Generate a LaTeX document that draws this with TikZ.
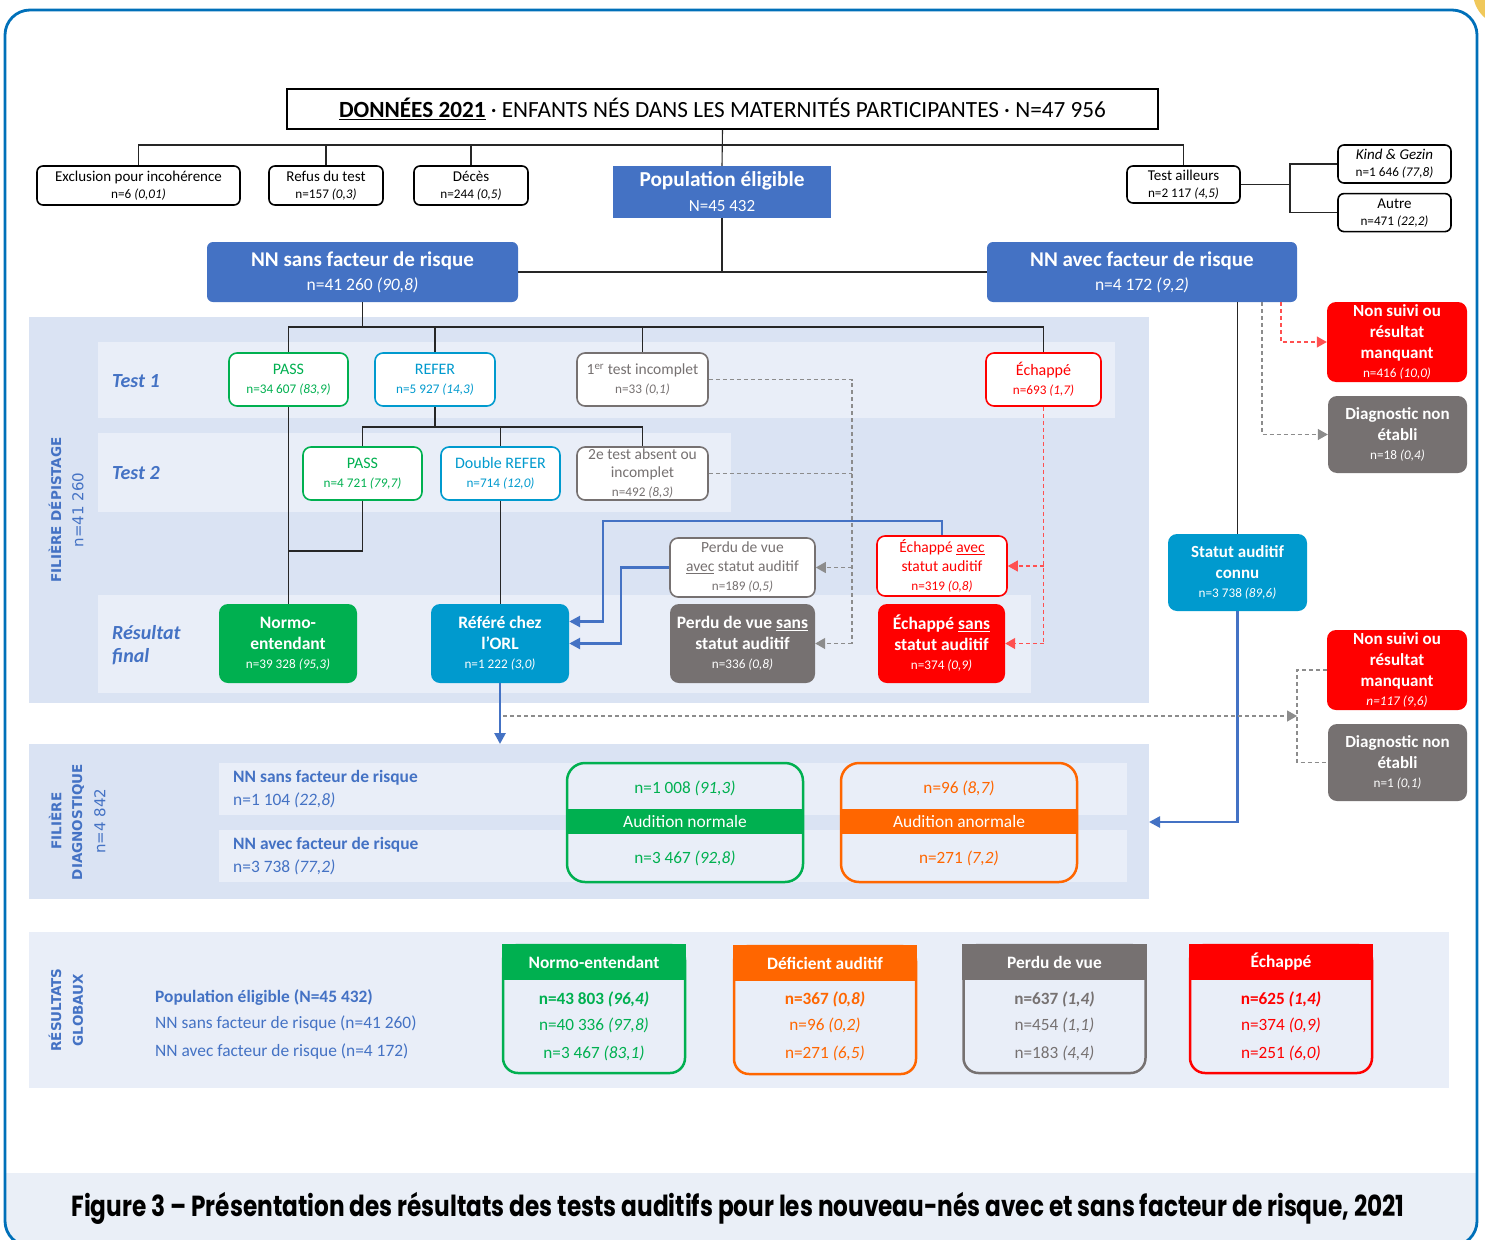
\documentclass[tikz,border=0pt]{standalone}
\usepackage{fontspec}
\setmainfont{Carlito}
\newfontfamily\capfont[FakeStretch=0.8]{Poppins}
\newfontfamily\sidefont{DejaVu Sans}
\usepackage{tikz}
\usetikzlibrary{positioning,arrows.meta}
\definecolor{nblue}{RGB}{68,114,196}
\definecolor{ncyan}{RGB}{0,154,206}
\definecolor{ngreen}{RGB}{0,176,80}
\definecolor{ngray}{RGB}{118,113,113}
\definecolor{nred}{RGB}{255,0,0}
\definecolor{norange}{RGB}{255,102,0}
\definecolor{bandcol}{RGB}{218,227,243}
\definecolor{stripcol}{RGB}{233,238,248}
\definecolor{framecol}{RGB}{0,112,185}
\definecolor{capcol}{RGB}{234,239,247}
\definecolor{sun}{RGB}{240,200,90}
\definecolor{dashgray}{RGB}{140,140,140}
\definecolor{dashred}{RGB}{255,80,80}
\newcommand{\pc}[1]{\textit{(#1)}}
\newcommand{\sm}{\mdseries\fontsize{13.2}{15}\selectfont}

\begin{document}
\begin{tikzpicture}[x=1pt,y=-1pt,
wbox/.style={draw=black,line width=1.6pt,rounded corners=6pt,fill=white,align=center,inner sep=0pt,font=\fontsize{15}{17}\selectfont},
pbox/.style={fill=nblue,text=white,align=center,inner sep=0pt},
tbox/.style={draw=#1,text=#1,line width=1.6pt,rounded corners=8pt,fill=white,align=center,inner sep=0pt,font=\fontsize{16}{19}\selectfont},
fbox/.style={fill=#1,text=white,rounded corners=9pt,align=center,inner sep=0pt,font=\bfseries\fontsize{17.5}{21}\selectfont},
abox/.style={draw=#1,line width=2.5pt,rounded corners=18pt,minimum width=236pt,minimum height=119pt},
aband/.style={fill=#1,text=white,minimum width=238pt,minimum height=25pt,inner sep=0pt,font=\fontsize{17.4}{19}\selectfont},
rbox/.style={draw=#1,line width=2.5pt,rounded corners=15pt,minimum width=182pt,minimum height=128pt},
rhead/.style={fill=#1,draw=#1,line width=2.5pt,text=white,minimum width=182pt,minimum height=34pt,inner sep=0pt,font=\bfseries\fontsize{17.4}{19}\selectfont},
lbl/.style={text=nblue,anchor=west,align=left,inner sep=0pt,font=\bfseries\itshape\fontsize{20}{23}\selectfont},
side/.style={text=nblue,rotate=90,inner sep=0pt,font=\sidefont\fontsize{15}{15}\selectfont},
sidebf/.style={side,font=\sidefont\bfseries\fontsize{13.5}{15}\selectfont},
dtxt/.style={text=nblue,anchor=west,inner sep=0pt,font=\fontsize{17.4}{19}\selectfont},
vtxt/.style={text=#1,inner sep=0pt,font=\fontsize{17.2}{19}\selectfont},
lnk/.style={draw=black!85,line width=1.1pt},
blu/.style={draw=nblue,line width=2.6pt,-{Triangle[length=11pt,width=11pt]}},
gdash/.style={draw=dashgray,line width=1.2pt,dash pattern=on 4pt off 3pt},
rdash/.style={draw=dashred,line width=1.2pt,dash pattern=on 4pt off 3pt},
tip/.style={-{Triangle[length=10pt,width=11pt]}}]

\useasboundingbox (0,0) rectangle (1485,1239);
\fill[white] (0,0) rectangle (1485,1239);
\fill[sun] (1507,-8) circle (34pt);
\begin{scope}
\clip[rounded corners=25pt] (5,10) rectangle (1477,1246);
\fill[capcol] (5,1173) rectangle (1477,1246);
\end{scope}
\draw[framecol,line width=2.8pt,rounded corners=25pt] (5,10) rectangle (1477,1246);

% backgrounds
\fill[bandcol] (29,317) rectangle (1149,703);
\fill[stripcol] (98,342) rectangle (1115,418);
\fill[stripcol] (98,433) rectangle (731,512);
\fill[stripcol] (98,595) rectangle (1031,693);
\fill[bandcol] (29,744) rectangle (1149,899);
\fill[stripcol] (219,763) rectangle (1127,815);
\fill[stripcol] (219,830) rectangle (1127,882);
\fill[stripcol] (29,932) rectangle (1449,1088);

% top
\node[wbox,rounded corners=0pt,minimum width=871pt,minimum height=40pt,font=\fontsize{23.2}{26}\selectfont] (title) at (722.5,109) {\textbf{\underline{DONNÉES 2021}} · ENFANTS NÉS DANS LES MATERNITÉS PARTICIPANTES · N=47 956};
\node[wbox,minimum width=203pt,minimum height=39pt] (excl) at (138.5,185.5) {Exclusion pour incohérence\\\sm n=6 \pc{0,01}};
\node[wbox,minimum width=114pt,minimum height=39pt] (refus) at (326,185.5) {Refus du test\\\sm n=157 \pc{0,3}};
\node[wbox,minimum width=114pt,minimum height=39pt] (deces) at (471,185.5) {Décès\\\sm n=244 \pc{0,5}};
\node[pbox,minimum width=218pt,minimum height=52pt,font=\fontsize{21.3}{25}\selectfont] (pop) at (722,192) {\textbf{Population éligible}\\\fontsize{17}{19}\selectfont N=45 432};
\node[wbox,minimum width=113pt,minimum height=37pt] (tail) at (1183.5,184.5) {Test ailleurs\\\sm n=2 117 \pc{4,5}};
\node[wbox,minimum width=113pt,minimum height=38pt] (kind) at (1394.5,164) {\textit{Kind \& Gezin}\\\sm n=1 646 \pc{77,8}};
\node[wbox,minimum width=113pt,minimum height=38pt,below=9pt of kind] (autre) {Autre\\\sm n=471 \pc{22,2}};
\node[pbox,rounded corners=6pt,minimum width=311pt,minimum height=60pt,font=\fontsize{21}{24}\selectfont] (nnsans) at (362.5,272) {\textbf{NN sans facteur de risque}\\\fontsize{17.5}{19}\selectfont n=41 260 \pc{90,8}};
\node[pbox,rounded corners=6pt,minimum width=310pt,minimum height=60pt,font=\fontsize{21}{24}\selectfont] (nnavec) at (1142,272) {\textbf{NN avec facteur de risque}\\\fontsize{17.5}{19}\selectfont n=4 172 \pc{9,2}};

% filiere depistage
\node[sidebf] (sdep) at (55,510) {FILIÈRE DÉPISTAGE};
\node[side] (sdepn) at (78,510) {n=41 260};
\node[lbl] (t1) at (112,381) {Test 1};
\node[lbl] (t2) at (112,473) {Test 2};
\node[lbl] (tf) at (112,645) {Résultat\\final};

\node[tbox=ngreen,minimum width=119pt,minimum height=53pt] (pass1) at (288.5,379.5) {PASS\\\sm n=34 607 \pc{83,9}};
\node[tbox=ncyan,minimum width=120pt,minimum height=53pt] (refer1) at (435,379.5) {REFER\\\sm n=5 927 \pc{14,3}};
\node[tbox=ngray,minimum width=131pt,minimum height=53pt,font=\fontsize{15.5}{19}\selectfont] (inc1) at (642.5,379.5) {1\textsuperscript{er} test incomplet\\\sm n=33 \pc{0,1}};
\node[tbox=nred,minimum width=115pt,minimum height=53pt] (ech1) at (1043.5,379.5) {Échappé\\\sm n=693 \pc{1,7}};

\node[tbox=ngreen,minimum width=119pt,minimum height=53pt] (pass2) at (362.5,473.5) {PASS\\\sm n=4 721 \pc{79,7}};
\node[tbox=ncyan,minimum width=119pt,minimum height=53pt] (dref) at (500.5,473.5) {Double REFER\\\sm n=714 \pc{12,0}};
\node[tbox=ngray,minimum width=131pt,minimum height=53pt,font=\fontsize{15.5}{18.5}\selectfont] (inc2) at (642.5,473.5) {2e test absent ou\\incomplet\\\sm n=492 \pc{8,3}};

\node[tbox=ngray,minimum width=145pt,minimum height=59pt,font=\fontsize{15.5}{19}\selectfont] (perdavec) at (742.5,567.5) {Perdu de vue\\\underline{avec} statut auditif\\\sm n=189 \pc{0,5}};
\node[tbox=nred,minimum width=130pt,minimum height=60pt,font=\fontsize{15.5}{19}\selectfont] (echavec) at (942,566) {Échappé \underline{avec}\\statut auditif\\\sm n=319 \pc{0,8}};

\node[fbox=ngreen,minimum width=138pt,minimum height=79pt] (normo) at (288,643.5) {Normo-\\entendant\\[-2pt]\sm n=39 328 \pc{95,3}};
\node[fbox=ncyan,minimum width=138pt,minimum height=79pt] (orl) at (500,643.5) {Référé chez\\l’ORL\\[-2pt]\sm n=1 222 \pc{3,0}};
\node[fbox=ngray,minimum width=145pt,minimum height=79pt] (perdsans) at (742.5,643.5) {Perdu de vue \underline{sans}\\statut auditif\\[-2pt]\sm n=336 \pc{0,8}};
\node[fbox=nred,minimum width=127pt,minimum height=79pt] (echsans) at (941.5,643.5) {Échappé \underline{sans}\\statut auditif\\[-2pt]\sm n=374 \pc{0,9}};

% right column
\node[fbox=nred,minimum width=140pt,minimum height=80pt,font=\bfseries\fontsize{17}{21}\selectfont] (nsuivi1) at (1397,342) {Non suivi ou\\résultat\\manquant\\[-2pt]\sm n=416 \pc{10,0}};
\node[fbox=ngray,minimum width=139pt,minimum height=77pt,font=\bfseries\fontsize{17}{21}\selectfont] (diagn1) at (1397.5,434.5) {Diagnostic non\\établi\\[-2pt]\sm n=18 \pc{0,4}};
\node[fbox=ncyan,minimum width=139pt,minimum height=77pt,font=\bfseries\fontsize{17}{21}\selectfont] (statut) at (1237.5,572.5) {Statut auditif\\connu\\[-2pt]\sm n=3 738 \pc{89,6}};
\node[fbox=nred,minimum width=140pt,minimum height=80pt,font=\bfseries\fontsize{17}{21}\selectfont] (nsuivi2) at (1397,670) {Non suivi ou\\résultat\\manquant\\[-2pt]\sm\itshape n=117 (9,6)};
\node[fbox=ngray,minimum width=139pt,minimum height=77pt,font=\bfseries\fontsize{17}{21}\selectfont] (diagn2) at (1397.5,762.5) {Diagnostic non\\établi\\[-2pt]\sm n=1 \pc{0,1}};

% filiere diagnostique
\node[sidebf] (sdia1) at (55,821) {FILIÈRE};
\node[sidebf] (sdia2) at (78,822) {DIAGNOSTIQUE};
\node[side] (sdian) at (100,821) {n=4 842};
\node[dtxt,font=\bfseries\fontsize{17.4}{19}\selectfont] (dsans) at (233,778) {NN sans facteur de risque};
\node[dtxt] (dsansn) at (233,800) {n=1 104 \pc{22,8}};
\node[dtxt,font=\bfseries\fontsize{17.4}{19}\selectfont] (davec) at (233,845) {NN avec facteur de risque};
\node[dtxt] (davecn) at (233,867) {n=3 738 \pc{77,2}};
\node[abox=ngreen] (audn) at (685,822.5) {};
\node[aband=ngreen] (audnb) at (685,821.5) {Audition normale};
\node[vtxt=ngreen] (audn1) at (685,788) {n=1 008 \pc{91,3}};
\node[vtxt=ngreen] (audn2) at (685,858) {n=3 467 \pc{92,8}};
\node[abox=norange] (auda) at (959,822.5) {};
\node[aband=norange] (audab) at (959,821.5) {Audition anormale};
\node[vtxt=norange] (auda1) at (959,788) {n=96 \pc{8,7}};
\node[vtxt=norange] (auda2) at (959,858) {n=271 \pc{7,2}};

% resultats globaux
\node[sidebf] (sres1) at (55,1010) {RÉSULTATS};
\node[sidebf] (sres2) at (78,1010) {GLOBAUX};
\node[dtxt,font=\bfseries\fontsize{17.4}{19}\selectfont] (gpop) at (155,998) {Population éligible (N=45 432)};
\node[dtxt] (gsans) at (155,1024) {NN sans facteur de risque (n=41 260)};
\node[dtxt] (gavec) at (155,1052) {NN avec facteur de risque (n=4 172)};

\node[rbox=ngreen] (rnormo) at (594,1009) {};
\node[rhead=ngreen] (hnormo) at (594,962) {Normo-entendant};
\node[vtxt=ngreen,font=\bfseries\fontsize{17.2}{19}\selectfont] (vn1) at (594,999) {n=43 803 \pc{96,4}};
\node[vtxt=ngreen] (vn2) at (594,1025) {n=40 336 \pc{97,8}};
\node[vtxt=ngreen] (vn3) at (594,1053) {n=3 467 \pc{83,1}};

\node[rbox=norange] (rdef) at (825,1010) {};
\node[rhead=norange] (hdef) at (825,963) {Déficient auditif};
\node[vtxt=norange,font=\bfseries\fontsize{17.2}{19}\selectfont] (vd1) at (825,999) {n=367 \pc{0,8}};
\node[vtxt=norange] (vd2) at (825,1025) {n=96 \pc{0,2}};
\node[vtxt=norange] (vd3) at (825,1053) {n=271 \pc{6,5}};

\node[rbox=ngray] (rperd) at (1054.5,1009) {};
\node[rhead=ngray] (hperd) at (1054.5,962) {Perdu de vue};
\node[vtxt=ngray,font=\bfseries\fontsize{17.2}{19}\selectfont] (vp1) at (1054.5,999) {n=637 \pc{1,4}};
\node[vtxt=ngray] (vp2) at (1054.5,1025) {n=454 \pc{1,1}};
\node[vtxt=ngray] (vp3) at (1054.5,1053) {n=183 \pc{4,4}};

\node[rbox=nred] (rech) at (1281,1009) {};
\node[rhead=nred] (hech) at (1281,962) {Échappé};
\node[vtxt=nred,font=\bfseries\fontsize{17.2}{19}\selectfont] (ve1) at (1281,999) {n=625 \pc{1,4}};
\node[vtxt=nred] (ve2) at (1281,1025) {n=374 \pc{0,9}};
\node[vtxt=nred] (ve3) at (1281,1053) {n=251 \pc{6,0}};

\node[font=\capfont\bfseries\fontsize{29}{31}\selectfont] (cap) at (738,1208) {Figure 3 – Présentation des résultats des tests auditifs pour les nouveau-nés avec et sans facteur de risque, 2021};

% connectors: top tree
\coordinate (bus0) at (722.5,145);
\draw[lnk] (title.south) -- (pop.north);
\draw[lnk] (excl.north) |- (tail.north |- bus0) -- (tail.north);
\draw[lnk] (refus.north) -- (refus.north |- bus0);
\draw[lnk] (deces.north) -- (deces.north |- bus0);
\coordinate (tb) at (1290,184.5);
\draw[lnk] (tail.east) -- (tb);
\draw[lnk] (kind.west) -| (tb) |- (autre.west);
\draw[lnk] (pop.south) -- (pop.south |- nnsans.east);
\draw[lnk] (nnsans.east) -- (nnavec.west);

% screening tree
\coordinate (bus1) at (362.5,327);
\draw[lnk] (nnsans.south) -- (bus1);
\draw[lnk] (pass1.north) |- (ech1.north |- bus1) -- (ech1.north);
\draw[lnk] (refer1.north) -- (refer1.north |- bus1);
\draw[lnk] (inc1.north) -- (inc1.north |- bus1);
\coordinate (bus2) at (435,427);
\draw[lnk] (refer1.south) -- (bus2);
\draw[lnk] (pass2.north) |- (inc2.north |- bus2) -- (inc2.north);
\draw[lnk] (dref.north) -- (dref.north |- bus2);
\draw[lnk] (pass1.south) -- (pass1.south |- normo.north);
\coordinate (j1) at (288.5,551);
\draw[lnk] (pass2.south) |- (j1);
\draw[lnk] (dref.south) -- (dref.south |- orl.north);

% dashed
\coordinate (g1) at (852,379.5);
\draw[gdash] (inc1.east) -- (g1) -- (g1 |- perdsans.east);
\draw[gdash] (inc2.east) -- (inc2.east -| g1);
\draw[gdash,tip] (perdavec.east -| g1) -- (perdavec.east);
\draw[gdash,tip] (perdsans.east -| g1) -- (perdsans.east);
\draw[rdash] (ech1.south) -- (ech1.south |- echsans.east);
\draw[rdash,tip] (ech1.south |- echavec.east) -- (echavec.east);
\draw[rdash,tip] (ech1.south |- echsans.east) -- (echsans.east);

% blue
\coordinate (bl1) at (603,521);
\draw[blu] (echavec.north) |- (bl1) |- ([yshift=22pt]orl.east);
\coordinate (bl2) at (621,567.5);
\draw[blu] (perdavec.west) -- (bl2) |- (orl.east);
\coordinate (diagtop) at (500,744);
\draw[blu] (orl.south) -- (diagtop);
\coordinate (diagin) at (1149,822);
\draw[blu] (statut.south) |- (diagin);

% right side
\draw[lnk] (nnavec.south -| statut.north) -- (statut.north);
\draw[gdash,tip] ([xshift=120pt]nnavec.south) |- (diagn1.west);
\draw[rdash,tip] ([xshift=139pt]nnavec.south) |- (nsuivi1.west);
\coordinate (dl) at (503,716);
\coordinate (dr) at (1297,716);
\draw[gdash,tip] (dl) -- (dr);
\draw[gdash] (nsuivi2.west) -| (dr) |- (diagn2.west);
\end{tikzpicture}
\end{document}
